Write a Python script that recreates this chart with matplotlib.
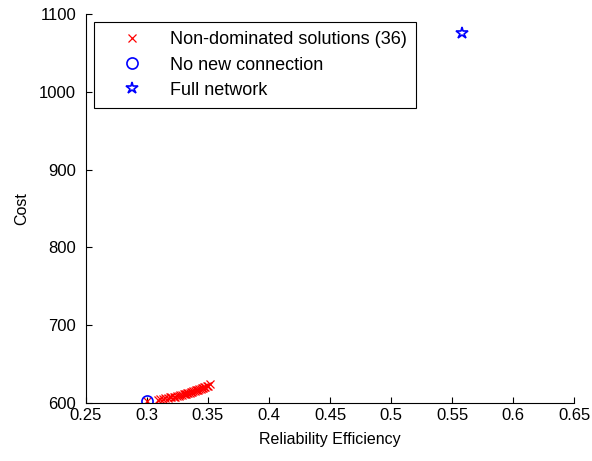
import matplotlib.pyplot as plt

# non-dominated solutions (36)
reliability = [0.300, 0.309, 0.311, 0.313, 0.315, 0.317, 0.319, 0.320, 0.322, 0.323,
               0.325, 0.326, 0.327, 0.329, 0.330, 0.331, 0.332, 0.333, 0.334, 0.335,
               0.336, 0.337, 0.338, 0.339, 0.340, 0.341, 0.342, 0.343, 0.344, 0.345,
               0.346, 0.347, 0.348, 0.349, 0.350, 0.352]
cost = [603, 604, 604.5, 605, 606, 606, 607, 607.5, 608, 608,
        609, 609.5, 610, 610.5, 611, 611.5, 612, 612.5, 613, 613,
        614, 614.5, 615, 615.5, 616, 616.5, 617, 617.5, 618, 619,
        619.5, 620, 621, 621.5, 622, 624]

no_new = (0.300, 602)
full_net = (0.558, 1076)

xticks = [0.25, 0.3, 0.35, 0.4, 0.45, 0.5, 0.55, 0.6, 0.65]
xticklabels = ['0.25', '0.3', '0.35', '0.4', '0.45', '0.5', '0.55', '0.6', '0.65']
yticks = [600, 700, 800, 900, 1000, 1100]

plt.rcParams['font.family'] = 'Liberation Sans'
plt.rcParams['font.size'] = 12

fig = plt.figure(figsize=(5.92, 4.61), dpi=100)
ax = fig.add_axes([0.145, 0.126, 0.825, 0.843])

ax.plot(reliability, cost, 'x', color='red', markersize=6, mew=0.9,
        label='Non-dominated solutions (36)')
ax.plot(no_new[0], no_new[1], 'o', mfc='none', mec='blue', markersize=8, mew=1.2,
        label='No new connection')
ax.plot(full_net[0], full_net[1], '*', mfc='none', mec='blue', markersize=9, mew=1.2,
        label='Full network')

ax.set_xlim(0.25, 0.65)
ax.set_ylim(600, 1100)
ax.set_xticks(xticks)
ax.set_xticklabels(xticklabels)
ax.set_yticks(yticks)
ax.tick_params(direction='in', length=4, width=0.8)
ax.tick_params(axis='y', pad=7)
ax.tick_params(axis='x', pad=4)
ax.spines['top'].set_visible(False)
ax.spines['right'].set_visible(False)
ax.set_xlabel('Reliability Efficiency', fontsize=11.5, labelpad=6)
ax.set_ylabel('Cost', fontsize=11.5, labelpad=7)

leg = ax.legend(loc='upper left', fancybox=False, edgecolor='black', framealpha=1,
                fontsize=13, borderaxespad=0.45, borderpad=0.5, handlelength=3.2,
                handletextpad=0.5, labelspacing=0.45)
leg.get_frame().set_linewidth(0.8)

fig.savefig('out.png', dpi=100)
